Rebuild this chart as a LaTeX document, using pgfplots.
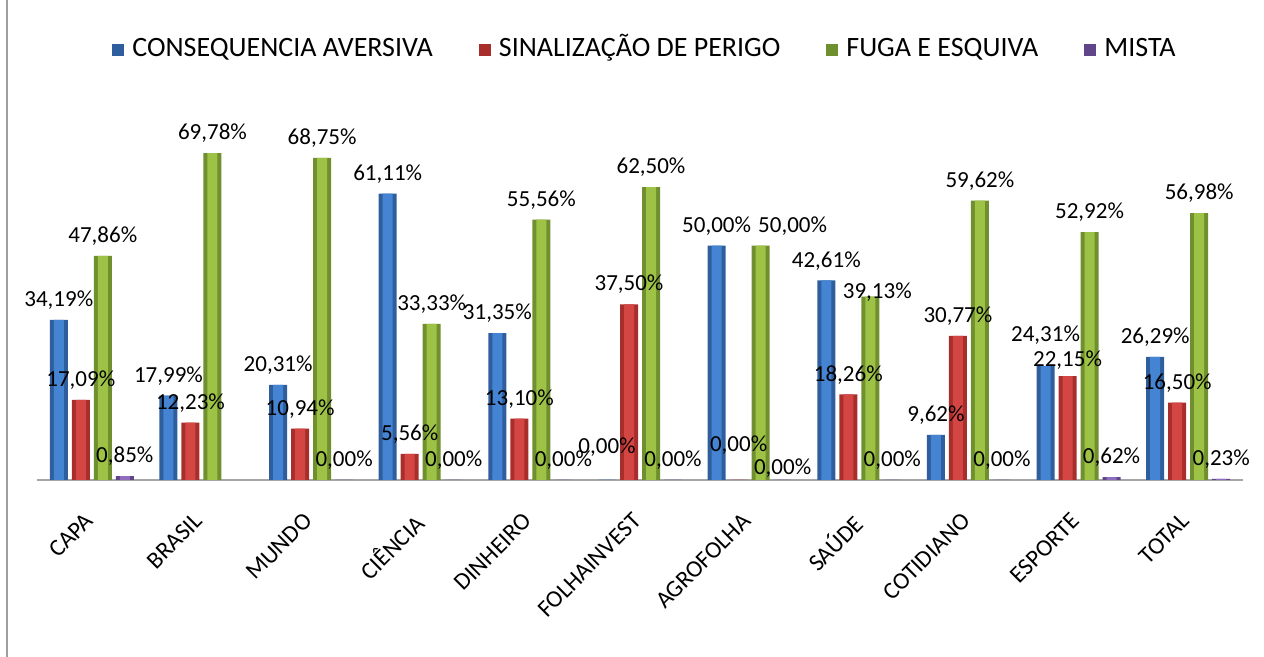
\documentclass[border=0pt]{standalone}
\usepackage{pgfplots}
\usepackage{pgfplotstable}
\pgfplotsset{compat=1.18}
\usepackage{fontspec}
\setmainfont{Carlito}

\definecolor{bluD}{HTML}{2E5E9E}\definecolor{bluL}{HTML}{4584D2}
\definecolor{redD}{HTML}{A82E2C}\definecolor{redL}{HTML}{D44644}
\definecolor{grnD}{HTML}{708F2E}\definecolor{grnL}{HTML}{9DC246}
\definecolor{purD}{HTML}{604689}\definecolor{purL}{HTML}{8D6DBC}

% x: 0 CAPA ... 10 TOTAL ; *dx/*dy = label nudges (pt) where the labels were moved apart
\pgfplotstableread{
x  cons   cdy  sina   sdy  fuga   fdx  fdy
0  34.19  0    17.09  0    47.86  0    0
1  17.99  0    12.23  0    69.78  0    0
2  20.31  0    10.94  0    68.75  0    0
3  61.11  0    5.56   0    33.33  0    0
4  31.35  0    13.10  0    55.56  0    0
5  0      6.5  37.50  0    62.50  0    0
6  50.00  0    0      7.5  50.00  16   0
7  42.61  0    18.26  0    39.13  3.5  -7.5
8  9.62   0    30.77  0    59.62  0    0
9  24.31  5.5  22.15  -2   52.92  0    0
10 26.29  0    16.50  0    56.98  0    0
}\tabmain
% mista: no bar for BRASIL
\pgfplotstableread{
x  mista  mdy
0  0.85   0
2  0      0
3  0      0
4  0      0
5  0      0
6  0      -4
7  0      0
8  0      0
9  0.62   0
10 0.23   0
}\tabmista

\begin{document}
\begin{tikzpicture}
\useasboundingbox (0,0) rectangle (632pt,328.5pt);
\draw[gray!75, line width=1pt] (3.5pt,0) -- (3.5pt,328.5pt);
\begin{axis}[
  at={(18.5pt,88.5pt)}, anchor=south west,
  scale only axis, width=603pt, height=175.7pt,
  ybar, bar width=9pt,
  xmin=-0.5, xmax=10.5, ymin=0, ymax=75,
  axis x line*=bottom, axis y line=none,
  x axis line style={gray!70, line width=0.6pt},
  xtick={0,...,10}, major tick length=0pt,
  xticklabels={CAPA,BRASIL,MUNDO,CIÊNCIA,DINHEIRO,FOLHAINVEST,AGROFOLHA,SAÚDE,COTIDIANO,ESPORTE,TOTAL},
  xticklabel style={rotate=45, anchor=north east, font=\fontsize{12}{12}\selectfont, inner sep=1pt, yshift=-7pt, xshift=-13pt},
  /pgf/number format/assume math mode=true,
  lab/.style 2 args={
    visualization depends on={#1 \as \ldx},
    visualization depends on={#2 \as \ldy},
    nodes near coords={\pgfmathprintnumber[fixed,fixed zerofill,precision=2,use comma]{\pgfplotspointmeta}\%},
    nodes near coords style={font=\fontsize{11.5}{11.5}\selectfont, black, anchor=south, inner sep=1pt,
      xshift=\ldx pt, yshift={(4+\ldy)*1pt}}},
  hl/.style={bar width=5pt, draw=none, forget plot},
  legend columns=4,
  legend style={at={(0.505,1.223)}, anchor=center, draw=none, fill=none,
    font=\fontsize{14}{14}\selectfont, column sep=2pt,
    /tikz/every even column/.append style={column sep=21pt},
    nodes={text height=1.5ex, text depth=0.1ex}},
  legend image code/.code={\fill[#1] (0pt,-3pt) rectangle (6pt,3pt);},
]
% dark body of each bar, then a lighter strip down its middle
\addplot[fill=bluD, draw=none, bar shift=-16.5pt, lab={0}{\thisrow{cdy}}] table[x=x,y=cons]{\tabmain};
\addlegendentry{CONSEQUENCIA AVERSIVA}
\addplot[fill=redD, draw=none, bar shift=-5.5pt, lab={0}{\thisrow{sdy}}] table[x=x,y=sina]{\tabmain};
\addlegendentry{SINALIZAÇÃO DE PERIGO}
\addplot[fill=grnD, draw=none, bar shift=5.5pt, lab={\thisrow{fdx}}{\thisrow{fdy}}] table[x=x,y=fuga]{\tabmain};
\addlegendentry{FUGA E ESQUIVA}
\addplot[fill=purD, draw=none, bar shift=16.5pt, lab={0}{\thisrow{mdy}}] table[x=x,y=mista]{\tabmista};
\addlegendentry{MISTA}
\addplot[fill=bluL, hl, bar shift=-16.5pt] table[x=x,y=cons]{\tabmain};
\addplot[fill=redL, hl, bar shift=-5.5pt] table[x=x,y=sina]{\tabmain};
\addplot[fill=grnL, hl, bar shift=5.5pt] table[x=x,y=fuga]{\tabmain};
\addplot[fill=purL, hl, bar shift=16.5pt] table[x=x,y=mista]{\tabmista};
\end{axis}
\end{tikzpicture}
\end{document}
